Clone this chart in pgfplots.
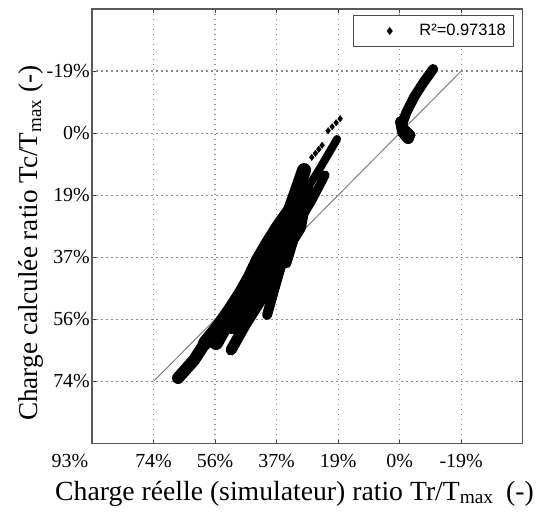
\documentclass[border=0pt]{standalone}
\usepackage{fontspec}
\setmainfont{Liberation Serif}
\newfontfamily\sansf{Liberation Sans}
\usepackage{pgfplots}
\pgfplotsset{compat=1.18}
\usetikzlibrary{calc}
\pgfplotsset{mylegend/.style={legend image code/.code={\path[draw=none,fill=none] (0bp,-3bp) rectangle (58.3bp,3bp); \draw[##1] plot coordinates {(30.6bp,0bp)};}}}

\begin{document}
\begin{tikzpicture}
\begin{axis}[
  scale only axis, width=430.7bp, height=434.5bp,
  x dir=reverse, y dir=reverse,
  xmin=-37.2, xmax=93, ymin=-37.2, ymax=93,
  xtick={74.4,55.8,37.2,18.6,0,-18.6},
  xticklabels={74\%,56\%,37\%,19\%,0\%,-19\%},
  ytick={74.4,55.8,37.2,18.6,0,-18.6},
  yticklabels={74\%,56\%,37\%,19\%,0\%,-19\%},
  grid=major,
  major grid style={dash pattern=on 1.2bp off 3.8bp, line width=1.2bp, black!45},
  tick align=inside, major tick length=4bp,
  tick style={black!75, line width=1bp},
  axis line style={black!65, line width=1.2bp},
  ticklabel style={font=\fontsize{20}{24}\selectfont},
  xticklabel style={anchor=base, yshift=-23.8bp},
  yticklabel style={anchor=east, inner sep=0pt, xshift=-2bp},
  legend style={at={(axis description cs:1,1)}, anchor=north east,
    xshift=-8.4bp, yshift=-6bp, draw=black!70, line width=1bp,
    font=\sansf\fontsize{16.5}{18}\selectfont, inner xsep=6bp, inner ysep=7bp},
]
\coordinate (A) at (axis cs:93,93);
\coordinate (B) at (axis cs:-37.2,-37.2);

% identity line
\addplot[black!50, line width=1bp, forget plot] coordinates {(74.4,74.4) (-18.6,-18.6)};

% dense strands of points (main cloud)
\addplot[black, line width=12bp, line cap=round, line join=round, forget plot] coordinates {
(66.99,73.37) (62.15,67.98) (58.82,62.89)};
\addplot[black, line width=14bp, line cap=round, line join=round, forget plot] coordinates {
(58.82,62.89) (54.89,58.09) (51.26,53.00) (47.94,47.90) (45.21,43.11) (42.79,38.01) (39.77,32.92) (36.75,28.13) (33.12,23.03) (31.30,17.94) (28.88,11.05)};
\addplot[black, line width=14bp, line cap=round, line join=round, forget plot] coordinates {
(55.50,62.89) (52.78,58.09) (49.45,53.00) (44.31,47.90) (41.28,43.11) (39.17,38.01) (36.75,32.92) (33.72,28.13) (31.30,23.03) (29.19,17.94)};
\addplot[black, line width=14bp, line cap=round, line join=round, forget plot] coordinates {
(50.66,58.09) (46.73,53.00) (42.79,47.90) (38.56,43.11) (35.54,38.01) (33.42,32.92) (30.39,28.13) (29.49,23.03) (27.07,17.94)};
\addplot[black, line width=11bp, line cap=round, line join=round, forget plot] coordinates {
(50.96,64.98) (46.73,57.49) (41.59,49.40) (36.14,40.41)};
\addplot[black, line width=10bp, line cap=round, line join=round, forget plot] coordinates {
(40.07,54.50) (37.96,47.00) (35.54,38.61) (32.51,30.82)};
\addplot[black, line width=8bp, line cap=round, line join=round, forget plot] coordinates {
(34.02,39.21) (32.81,35.32) (31.91,32.32)};
\addplot[black, line width=9bp, line cap=round, line join=round, forget plot] coordinates {
(30.09,26.03) (26.46,20.04) (22.53,12.54)};
\addplot[black, line width=8bp, line cap=round, line join=round, forget plot] coordinates {
(33.12,24.53) (28.58,17.64) (24.04,10.45) (18.90,1.76)};
% upper right cluster
\addplot[black, line width=10bp, line cap=round, line join=round, forget plot] coordinates {
(-0.76,-2.74) (-1.97,-6.04) (-4.39,-10.83) (-7.11,-15.03) (-10.13,-19.22)};
\addplot[black, line width=12bp, line cap=round, line join=round, forget plot] coordinates {
(-0.45,-3.34) (-1.06,-0.34) (-2.57,1.46)};
\addplot[black, line width=9bp, line cap=round, line join=round, forget plot] coordinates {
(-1.36,-1.54) (-3.48,0.56)};

% isolated points
\addplot[only marks, mark=diamond*, mark size=3.2bp, black, mylegend] coordinates {
(26.55,7.24) (25.46,6.04) (24.44,4.84) (23.44,3.64)
(21.62,-0.73) (20.41,-1.93) (19.20,-3.13) (17.99,-4.33)};
\addlegendentry{R²=0.97318}
\end{axis}
\node[anchor=base east, inner sep=0pt, font=\fontsize{20}{24}\selectfont] at ($(A)+(-3.7bp,-23.8bp)$) {93\%};
\node[anchor=base west, inner sep=0pt, font=\fontsize{27.8}{30}\selectfont] at ($(A)+(-37bp,-56.5bp)$) {Charge réelle (simulateur) ratio Tr/T\textsubscript{max}\hspace{0.45em}(-)};
\node[anchor=base west, inner sep=0pt, rotate=90, font=\fontsize{27.3}{30}\selectfont] at ($(A)+(-54.5bp,22.5bp)$) {Charge calculée ratio Tc/T\textsubscript{max} (-)};
\pgfresetboundingbox
\path[use as bounding box] ($(A)+(-92bp,-74.5bp)$) rectangle ($(B)+(14.3bp,9bp)$);
\end{tikzpicture}
\end{document}
